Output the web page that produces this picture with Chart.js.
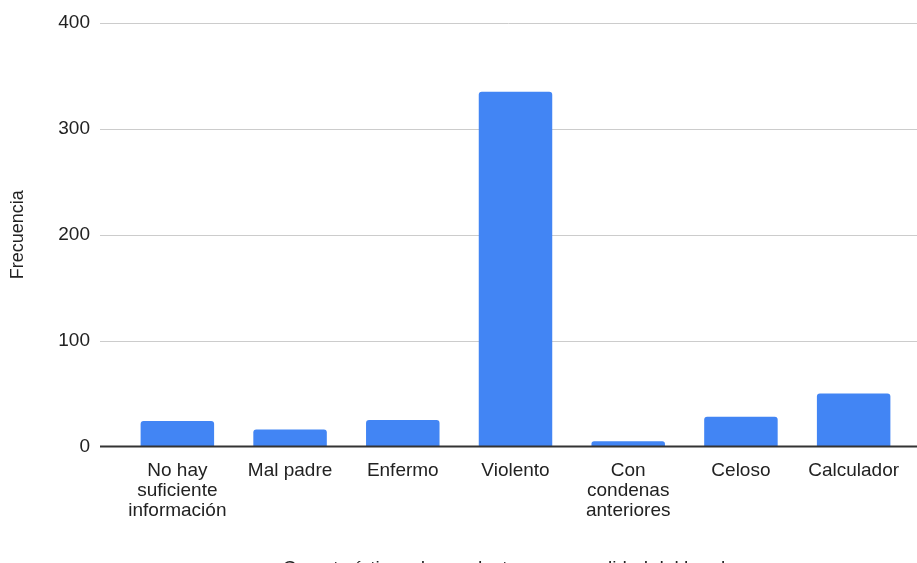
<!DOCTYPE html>
<html>
<head>
<meta charset="utf-8">
<script src="https://cdn.jsdelivr.net/npm/chart.js@4/dist/chart.umd.min.js"></script>
<style>
  html, body { margin: 0; padding: 0; background: #fff; }
  #wrap { width: 917px; height: 563px; }
</style>
</head>
<body>
<div id="wrap"><canvas id="chart"></canvas></div>
<script>
const categories = [
  ["No hay", "suficiente", "información"],
  "Mal padre",
  "Enfermo",
  "Violento",
  ["Con", "condenas", "anteriores"],
  "Celoso",
  "Calculador"
];
const frecuencia = [24, 16, 25, 335, 5, 28, 50];
const yTicks = [0, 100, 200, 300, 400];

const font = "Arial, 'Liberation Sans', sans-serif";

// gridlines span wider than the bar area, so draw them from the y scale
const wideGrid = {
  id: "wideGrid",
  beforeDatasetsDraw(chart) {
    const ctx = chart.ctx, y = chart.scales.y;
    ctx.save();
    ctx.strokeStyle = "#cccccc";
    ctx.lineWidth = 1;
    yTicks.slice(1).forEach(v => {
      const py = Math.round(y.getPixelForValue(v)) + 0.5;
      ctx.beginPath();
      ctx.moveTo(100, py);
      ctx.lineTo(chart.width, py);
      ctx.stroke();
    });
    ctx.restore();
  },
  afterDatasetsDraw(chart) {
    const ctx = chart.ctx, y = chart.scales.y;
    const py = y.getPixelForValue(0);
    ctx.save();
    ctx.strokeStyle = "#333333";
    ctx.lineWidth = 2;
    ctx.beginPath();
    ctx.moveTo(100, py);
    ctx.lineTo(chart.width, py);
    ctx.stroke();
    ctx.restore();
  }
};

new Chart(document.getElementById("chart"), {
  type: "bar",
  data: {
    labels: categories,
    datasets: [{
      label: "Frecuencia",
      data: frecuencia,
      backgroundColor: "#4285f4",
      borderRadius: { topLeft: 3, topRight: 3 },
      borderSkipped: "bottom",
      categoryPercentage: 1,
      barPercentage: 0.652
    }]
  },
  options: {
    responsive: true,
    maintainAspectRatio: false,
    animation: false,
    devicePixelRatio: 1,
    layout: { padding: { top: 23, right: 7, bottom: -17, left: 0 } },
    plugins: {
      legend: { display: false },
      tooltip: { enabled: false }
    },
    scales: {
      x: {
        grid: { display: false, drawTicks: false },
        border: { display: false },
        ticks: {
          color: "#222",
          font: { family: font, size: 19, lineHeight: 1.05 },
          padding: 14,
          maxRotation: 0,
          autoSkip: false
        },
        title: {
          display: true,
          text: "Características de conducta o personalidad del hombre",
          color: "#222",
          font: { family: font, size: 19 },
          padding: { top: 30, bottom: 0 }
        },
        afterFit(scale) { scale.height = 133.5; }
      },
      y: {
        min: 0,
        max: 400,
        afterBuildTicks(scale) { scale.ticks = yTicks.map(v => ({ value: v })); },
        grid: { display: false, drawTicks: false },
        border: { display: false },
        ticks: {
          color: "#222",
          font: { family: font, size: 19 },
          padding: 31
        },
        title: {
          display: true,
          text: "Frecuencia",
          color: "#222",
          font: { family: font, size: 18 },
          padding: { top: 7, bottom: 0 }
        },
        afterFit(scale) {
          scale.width = 121;
          scale.paddingTop = 0;
          scale.paddingBottom = 0;
        }
      }
    }
  },
  plugins: [wideGrid]
});
</script>
</body>
</html>
